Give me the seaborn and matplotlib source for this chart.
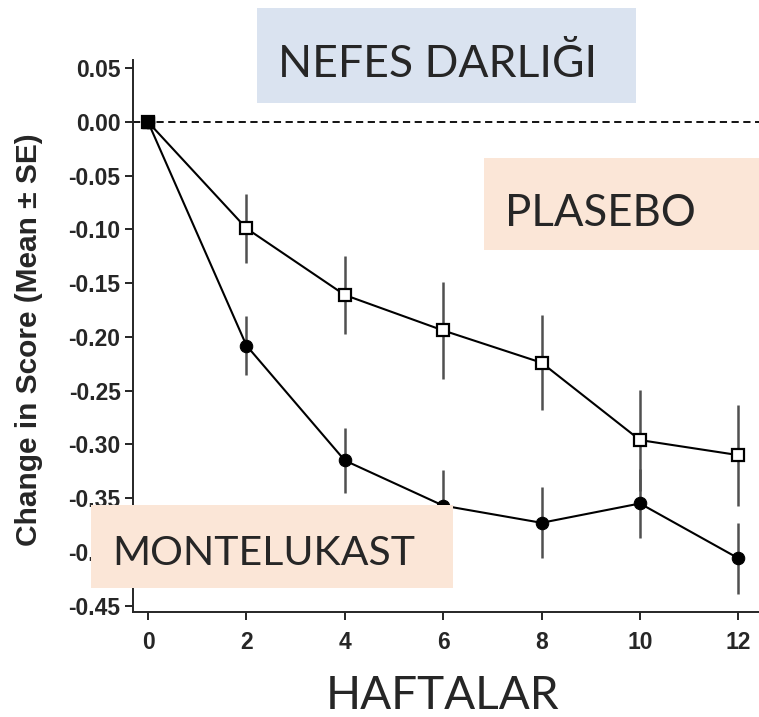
import numpy as np
import pandas as pd
import matplotlib
matplotlib.use("Agg")
import matplotlib.pyplot as plt
from matplotlib.patches import Rectangle
import seaborn as sns

weeks = [0, 2, 4, 6, 8, 10, 12]
placebo_mean = [0.00, -0.099, -0.161, -0.194, -0.224, -0.296, -0.310]
placebo_se = [0.0, 0.032, 0.036, 0.045, 0.044, 0.047, 0.047]
monte_mean = [0.00, -0.208, -0.315, -0.357, -0.373, -0.355, -0.406]
monte_se = [0.0, 0.027, 0.030, 0.033, 0.033, 0.032, 0.033]
y_ticks = [0.05, 0.00, -0.05, -0.10, -0.15, -0.20, -0.25, -0.30, -0.35, -0.40, -0.45]
x_ticks = [0, 2, 4, 6, 8, 10, 12]

title_text = "NEFES DARLIĞI"
placebo_label = "PLASEBO"
monte_label = "MONTELUKAST"
x_label = "HAFTALAR"
y_label = "Change in Score (Mean ± SE)"

df_p = pd.DataFrame({"week": weeks, "mean": placebo_mean, "se": placebo_se})
df_m = pd.DataFrame({"week": weeks, "mean": monte_mean, "se": monte_se})

sns.set_theme(style="ticks")
plt.rcParams["font.family"] = ["Liberation Sans", "DejaVu Sans"]

W, H = 759, 717
fig = plt.figure(figsize=(W / 100, H / 100), dpi=100)
ax = fig.add_axes([133 / W, 1 - 612 / H, (759 - 133) / W, (612 - 60) / H])

# error bars
for d in (df_p, df_m):
    ax.vlines(d["week"][1:], (d["mean"] - d["se"])[1:], (d["mean"] + d["se"])[1:],
              color="#505050", lw=1.8, zorder=2)

ax.axhline(0, color="black", lw=1.3, ls=(0, (4, 2.5)), zorder=1)

sns.lineplot(data=df_p, x="week", y="mean", ax=ax, color="black", lw=1.5,
             marker="s", markersize=8.5, markerfacecolor="white",
             markeredgecolor="black", markeredgewidth=1.6, zorder=4)
sns.lineplot(data=df_m, x="week", y="mean", ax=ax, color="black", lw=1.5,
             marker="o", markersize=9, markerfacecolor="black",
             markeredgecolor="black", zorder=3)
# filled start marker
ax.plot([0], [0], marker="s", ms=9, color="black", zorder=5)

ax.set_xlim(-0.306, 12.42)
ax.set_ylim(-0.456, 0.0577)
ax.set_xticks(x_ticks)
ax.set_yticks(y_ticks)
ax.set_yticklabels([f"{v:.2f}" for v in y_ticks])
ax.tick_params(axis="both", labelsize=16.5, width=1.2, length=6, color="black")
ax.tick_params(axis="x", pad=8)
ax.tick_params(axis="y", pad=3)
for lab in ax.get_xticklabels() + ax.get_yticklabels():
    lab.set_fontweight("bold")
ax.spines["top"].set_visible(False)
ax.spines["right"].set_visible(False)
ax.spines["left"].set_linewidth(1.4)
ax.spines["bottom"].set_linewidth(1.4)
ax.set_xlabel("")
ax.set_ylabel(y_label, fontsize=21.5, fontweight="bold")
ax.yaxis.set_label_coords((43 - 133) / 626, (612 - 340) / 552)

# overlay boxes
def box(x0, y0, x1, y1, color, text, tx, baseline, size):
    fig.add_artist(Rectangle((x0 / W, 1 - y1 / H), (x1 - x0) / W, (y1 - y0) / H,
                             transform=fig.transFigure, facecolor=color,
                             edgecolor="none", zorder=10))
    fig.text(tx / W, 1 - baseline / H, text, fontsize=size,
             family=["Lato", "DejaVu Sans"], va="baseline", ha="left", zorder=11)

box(257, 8, 636, 103, "#dae3f0", title_text, 278, 77, 32)
box(484, 158, 760, 250, "#fbe6d7", placebo_label, 505, 226, 31.5)
box(91, 505, 453, 588, "#fbe6d7", monte_label, 112, 565, 29.5)

fig.text(443 / W, 1 - 709 / H, x_label, fontsize=33, family=["Lato", "DejaVu Sans"],
         ha="center", va="baseline")

fig.savefig("out.png", dpi=100)
